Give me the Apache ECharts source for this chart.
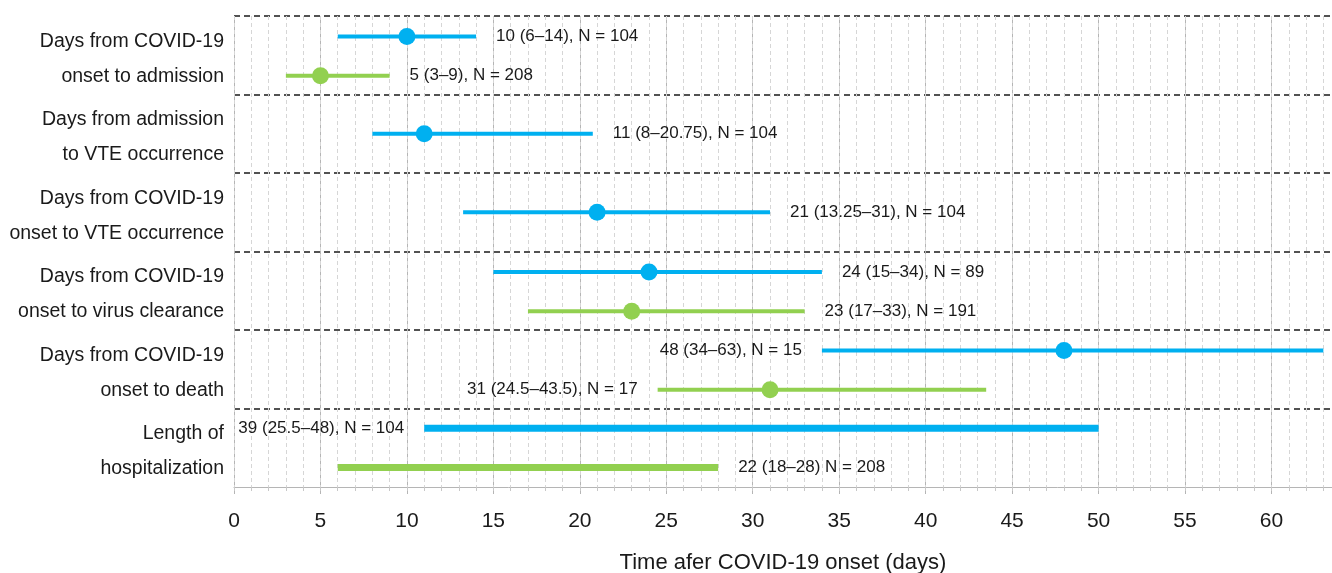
<!DOCTYPE html>
<html>
<head>
<meta charset="utf-8">
<script src="https://cdn.jsdelivr.net/npm/echarts@6/dist/echarts.min.js"></script>
<style>
  html, body { margin:0; padding:0; background:#fff; }
  #chart { width:1332px; height:573px; }
</style>
</head>
<body>
<div id="chart"></div>
<script>
// group labels (one band per group, top to bottom)
const groupNames = [
    'Days from COVID-19\nonset to admission',
    'Days from admission\nto VTE occurrence',
    'Days from COVID-19\nonset to VTE occurrence',
    'Days from COVID-19\nonset to virus clearance',
    'Days from COVID-19\nonset to death',
    'Length of\nhospitalization'
];

// blue cohort: median (IQR)
const blueGroup  = [0, 1, 2, 3, 4];
const blueMedian = [10, 11, 21, 24, 48];
const blueLow    = [6, 8, 13.25, 15, 34];
const blueHigh   = [14, 20.75, 31, 34, 63];
const blueText   = ['10 (6–14), N = 104', '11 (8–20.75), N = 104', '21 (13.25–31), N = 104', '24 (15–34), N = 89', '48 (34–63), N = 15'];
const blueTextLeft = [false, false, false, false, true];

// green cohort: median (IQR)
const greenGroup  = [0, 3, 4];
const greenMedian = [5, 23, 31];
const greenLow    = [3, 17, 24.5];
const greenHigh   = [9, 33, 43.5];
const greenText   = ['5 (3–9), N = 208', '23 (17–33), N = 191', '31 (24.5–43.5), N = 17'];
const greenTextLeft = [false, false, true];

// length of hospitalization bars (blue, green)
const stayStart = [11, 6];
const stayEnd   = [50, 28];
const stayText  = ['39 (25.5–48), N = 104', '22 (18–28) N = 208'];
const stayTextLeft = [true, false];

const BLUE = '#00b0f0';
const GREEN = '#92d050';
const FONT = '"Liberation Sans", Arial, sans-serif';

// row position inside the 2-unit band of each group
const hasGreen = g => greenGroup.indexOf(g) >= 0;
const blueY  = blueGroup.map(g => g * 2 + (hasGreen(g) ? 0.52 : 1));
const greenY = greenGroup.map(g => g * 2 + 1.52);
const stayY  = [5 * 2 + 0.5, 5 * 2 + 1.5];

function rangeSeries(name, color, low, high, median, ys, texts, left, width, dot){
    return {
        type:'custom',
        name:name,
        xAxisIndex:0,
        yAxisIndex:1,
        encode:{ x:[0, 1], y:3 },
        data: low.map((l, i) => [l, high[i], median ? median[i] : l, ys[i]]),
        renderItem:(params, api)=>{
            let i = params.dataIndex;
            let y = api.value(3);
            let p0 = api.coord([api.value(0), y]);
            let p1 = api.coord([api.value(1), y]);
            let children = [{
                type:'line',
                shape:{ x1:p0[0], y1:p0[1], x2:p1[0], y2:p1[1] },
                style:{ stroke:color, lineWidth:width, lineCap:'butt' }
            }];
            if ( dot ){
                let pm = api.coord([api.value(2), y]);
                children.push({
                    type:'circle',
                    shape:{ cx:pm[0], cy:pm[1], r:8.5 },
                    style:{ fill:color }
                });
            }
            children.push({
                type:'text',
                style:{
                    text:texts[i],
                    x: left[i] ? p0[0] - 20 : p1[0] + 20,
                    y: p0[1],
                    align: left[i] ? 'right' : 'left',
                    verticalAlign:'middle',
                    fill:'#1a1a1a',
                    font:'17px ' + FONT
                }
            });
            return { type:'group', children:children };
        }
    };
}

const myChart = echarts.init(document.getElementById('chart'));
const option = {
    animation:false,
    textStyle:{ fontFamily:FONT },
    grid:{ left:234, right:0, top:16, bottom:86, containLabel:false, outerBoundsMode:'none' },
    xAxis:[
        {
            type:'value',
            min:0,
            max:63.5,
            interval:5,
            name:'Time afer COVID-19 onset (days)',
            nameLocation:'middle',
            nameGap:65,
            nameTextStyle:{ fontSize:22, color:'#1a1a1a' },
            axisLine:{ onZero:false, lineStyle:{ color:'#b5b5b5' } },
            axisTick:{ length:7, lineStyle:{ color:'#b5b5b5' } },
            axisLabel:{ fontSize:21, color:'#1a1a1a', margin:24, showMaxLabel:false },
            splitLine:{ lineStyle:{ color:'#b5b5b5', width:1 } }
        },
        {
            type:'value',
            min:0,
            max:63.5,
            interval:1,
            position:'bottom',
            axisLine:{ show:false, onZero:false },
            axisTick:{ length:4, lineStyle:{ color:'#c8c8c8' } },
            axisLabel:{ show:false },
            splitLine:{ lineStyle:{ color:'#d6d6d6', type:[4, 3] } }
        }
    ],
    yAxis:[
        {
            type:'category',
            data:groupNames,
            inverse:true,
            axisLine:{ show:false },
            axisTick:{ show:false },
            axisLabel:{
                color:'#1a1a1a',
                margin:10,
                align:'right',
                formatter:(value)=>value.split('\n').map(s => '{t|' + s + '}').join('\n'),
                rich:{
                    t:{ fontSize:19.5, lineHeight:35, color:'#1a1a1a', padding:[7, 0, 0, 0] }
                }
            },
            splitLine:{ show:true, showMaxLine:false, lineStyle:{ color:'#1a1a1a', width:1.5, type:[6, 4] } }
        },
        {
            type:'value',
            min:0,
            max:12,
            inverse:true,
            show:false
        }
    ],
    series:[
        rangeSeries('blue', BLUE, blueLow, blueHigh, blueMedian, blueY, blueText, blueTextLeft, 4, true),
        rangeSeries('green', GREEN, greenLow, greenHigh, greenMedian, greenY, greenText, greenTextLeft, 4, true),
        rangeSeries('stayBlue', BLUE, [stayStart[0]], [stayEnd[0]], null, [stayY[0]], [stayText[0]], [stayTextLeft[0]], 7, false),
        rangeSeries('stayGreen', GREEN, [stayStart[1]], [stayEnd[1]], null, [stayY[1]], [stayText[1]], [stayTextLeft[1]], 7, false)
    ]
};
myChart.setOption(option);
</script>
</body>
</html>
